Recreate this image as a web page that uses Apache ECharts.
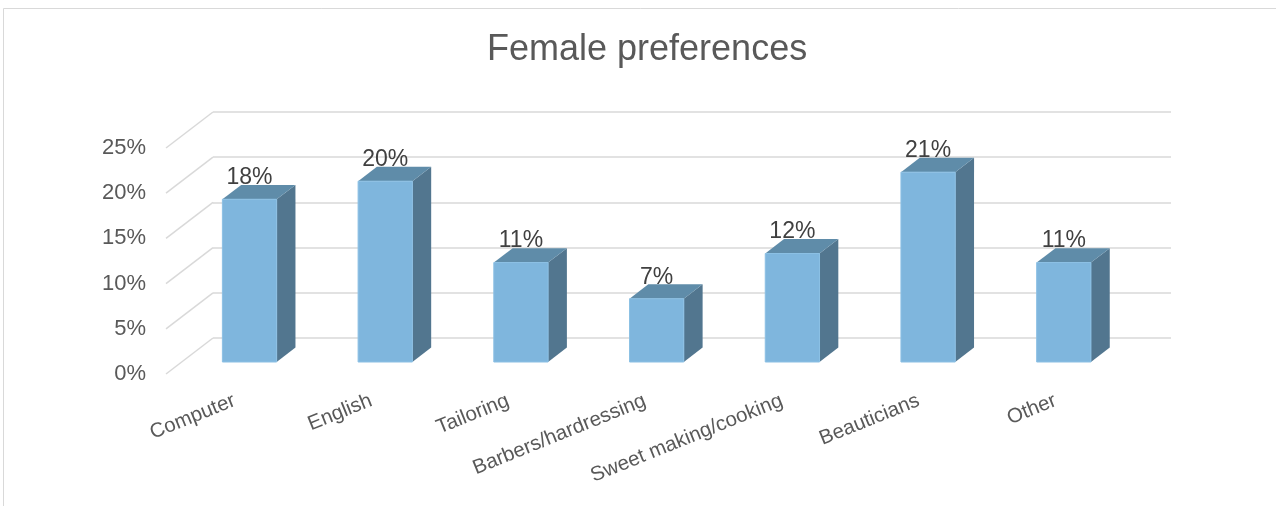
<!DOCTYPE html>
<html>
<head>
<meta charset="utf-8">
<script src="https://cdn.jsdelivr.net/npm/echarts@6/dist/echarts.min.js"></script>
<style>
  html, body { margin: 0; padding: 0; background: #fff; }
  #chart { width: 1276px; height: 506px; }
</style>
</head>
<body>
<div id="chart"></div>
<script>
// Data
const categories = ['Computer', 'English', 'Tailoring', 'Barbers/hardressing', 'Sweet making/cooking', 'Beauticians', 'Other'];
const shares = [0.18, 0.20, 0.11, 0.07, 0.12, 0.21, 0.11];
const yTicks = [0, 0.05, 0.10, 0.15, 0.20, 0.25];

// Pseudo-3D layout: front plane, plane of the bar fronts, back wall
const FRONT = { left: 166, top: 148, width: 958, height: 226 };
const DEPTH = { dx: 47, dy: -36 };   // offset from front plane to back wall
const BAR_T = 1 / 3;                  // depth of the bar front faces
const BAR_D = 0.4;                    // bar depth as share of floor depth
const BAR_PLANE_WIDTH = 950;

const FONT = 'Liberation Sans, Arial, sans-serif';
const GRID_LINE = '#d9d9d9';
const pct = v => Math.round(v * 100) + '%';

const barGrid = {
  left: FRONT.left + DEPTH.dx * BAR_T,
  top: FRONT.top + DEPTH.dy * BAR_T,
  width: BAR_PLANE_WIDTH,
  height: FRONT.height
};
const backGrid = {
  left: FRONT.left + DEPTH.dx,
  top: FRONT.top + DEPTH.dy,
  width: FRONT.width,
  height: FRONT.height
};

const valueAxis = { type: 'value', min: 0, max: 0.25, interval: 0.05 };

const chart = echarts.init(document.getElementById('chart'), null, { renderer: 'canvas' });

chart.setOption({
  animation: false,
  backgroundColor: '#ffffff',
  textStyle: { fontFamily: FONT },
  title: {
    text: 'Female preferences',
    left: 482,
    top: 27,
    textStyle: { fontSize: 36, fontWeight: 'normal', color: '#595959', fontFamily: FONT }
  },
  graphic: [{
    type: 'rect',
    silent: true,
    shape: { x: 3.5, y: 8.5, width: 1400, height: 600 },
    style: { fill: 'none', stroke: '#d9d9d9', lineWidth: 1 }
  }],
  grid: [
    { left: FRONT.left, top: FRONT.top, width: FRONT.width, height: FRONT.height },
    barGrid,
    backGrid
  ],
  xAxis: [
    {
      gridIndex: 0, type: 'category', data: categories,
      axisLine: { show: false }, axisTick: { show: false },
      axisLabel: { interval: 0, rotate: 22, margin: 26, fontSize: 20.5, color: '#595959', fontFamily: FONT }
    },
    { gridIndex: 1, type: 'category', data: categories, show: false },
    { gridIndex: 2, type: 'category', data: categories, show: false }
  ],
  yAxis: [
    Object.assign({}, valueAxis, {
      gridIndex: 0,
      axisLine: { show: false }, axisTick: { show: false }, splitLine: { show: false },
      axisLabel: { formatter: pct, fontSize: 22, color: '#595959', margin: 20, fontFamily: FONT }
    }),
    Object.assign({}, valueAxis, { gridIndex: 1, show: false }),
    Object.assign({}, valueAxis, {
      gridIndex: 2,
      axisLine: { show: false }, axisTick: { show: false },
      axisLabel: { show: false },
      splitLine: { show: true, lineStyle: { color: GRID_LINE, width: 1.5 } }
    })
  ],
  series: [
    {
      // left side wall: one receding line per tick
      name: 'wall',
      type: 'custom',
      xAxisIndex: 0, yAxisIndex: 0,
      clip: false, silent: true,
      data: yTicks.map(v => [0, v]),
      renderItem: function (params, api) {
        const y = api.coord([0, api.value(1)])[1];
        const x = params.coordSys.x;
        return {
          type: 'line',
          shape: { x1: x, y1: y, x2: x + DEPTH.dx, y2: y + DEPTH.dy },
          style: { stroke: GRID_LINE, lineWidth: 1.5 }
        };
      }
    },
    {
      name: 'Female preferences',
      type: 'custom',
      xAxisIndex: 1, yAxisIndex: 1,
      clip: false,
      data: shares.map((v, i) => [i, v]),
      renderItem: function (params, api) {
        const i = api.value(0), v = api.value(1);
        const top = api.coord([i, v]);
        const base = api.coord([i, 0]);
        const bw = api.size([1, 0])[0] * 0.4;
        const x0 = top[0] - bw / 2, x1 = top[0] + bw / 2;
        const ddx = DEPTH.dx * BAR_D, ddy = DEPTH.dy * BAR_D;
        return {
          type: 'group',
          children: [
            {
              type: 'polygon',
              shape: { points: [[x1, top[1]], [x1 + ddx, top[1] + ddy], [x1 + ddx, base[1] + ddy], [x1, base[1]]] },
              style: { fill: '#52768f' }
            },
            {
              type: 'polygon',
              shape: { points: [[x0, top[1]], [x1, top[1]], [x1 + ddx, top[1] + ddy], [x0 + ddx, top[1] + ddy]] },
              style: { fill: '#5f8ca9' }
            },
            {
              type: 'rect',
              shape: { x: x0, y: top[1], width: bw, height: base[1] - top[1] },
              style: { fill: '#7fb6dd', stroke: '#8cc0e4', lineWidth: 1 }
            },
            {
              type: 'text',
              style: {
                x: top[0], y: top[1] - 10,
                text: pct(v),
                align: 'center', verticalAlign: 'bottom',
                fontSize: 23, fontFamily: FONT, fill: '#404040'
              }
            }
          ]
        };
      }
    }
  ]
});
</script>
</body>
</html>
